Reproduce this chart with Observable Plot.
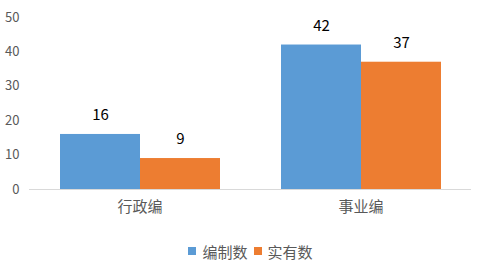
<!DOCTYPE html>
<html><head><meta charset="utf-8">
<script src="https://cdn.jsdelivr.net/npm/d3@7"></script>
<script src="https://cdn.jsdelivr.net/npm/@observablehq/plot@0.6"></script>
<style>
body{margin:0;background:#fff;font-family:"Noto Sans CJK SC",sans-serif;}
#legend{display:flex;justify-content:center;align-items:center;gap:6px;font-size:15px;color:#595959;height:20px;margin-top:13px;}
#legend .sw{display:inline-block;width:8px;height:8px;margin-right:6px;}
#legend .item{display:flex;align-items:center;}
</style></head>
<body><div id="chart"></div><div id="legend"></div>
<script>
const categories = ["行政编", "事业编"];
const seriesNames = ["编制数", "实有数"];
const authorized = [16, 42];
const actual = [9, 37];
const colors = ["#5B9BD5", "#ED7D31"];
const yTicks = [0, 10, 20, 30, 40, 50];

const data = [];
categories.forEach((c, i) => {
  data.push({cat: c, series: seriesNames[0], value: authorized[i]});
  data.push({cat: c, series: seriesNames[1], value: actual[i]});
});

const chart = Plot.plot({
  width: 501, height: 228,
  marginLeft: 29, marginRight: 30, marginTop: 17, marginBottom: 39,
  style: {fontFamily: '"Noto Sans CJK SC", sans-serif', background: "#fff"},
  fx: {domain: categories, padding: 0, label: null},
  x: {domain: seriesNames, paddingInner: 0, paddingOuter: 0.373, axis: null},
  y: {domain: [0, 50], axis: null},
  color: {domain: seriesNames, range: colors},
  marks: [
    Plot.axisY({ticks: yTicks, tickSize: 0, tickPadding: 10, label: null, fontSize: 13, color: "#595959", facetAnchor: "left"}),
    Plot.axisFx({anchor: "bottom", tickSize: 0, tickPadding: 12, label: null, fontSize: 15, color: "#595959"}),
    Plot.barY(data, {fx: "cat", x: "series", y: "value", fill: "series"}),
    Plot.ruleY([0], {stroke: "#d9d9d9", strokeWidth: 1}),
    Plot.text(data, {fx: "cat", x: "series", y: "value", text: d => String(d.value), dy: -19, fontSize: 15, fill: "#000"})
  ]
});
document.getElementById("chart").appendChild(chart);

const lg = document.getElementById("legend");
seriesNames.forEach((s, i) => {
  const it = document.createElement("span");
  it.className = "item";
  it.innerHTML = `<span class="sw" style="background:${colors[i]}"></span>${s}`;
  lg.appendChild(it);
});
</script></body></html>
